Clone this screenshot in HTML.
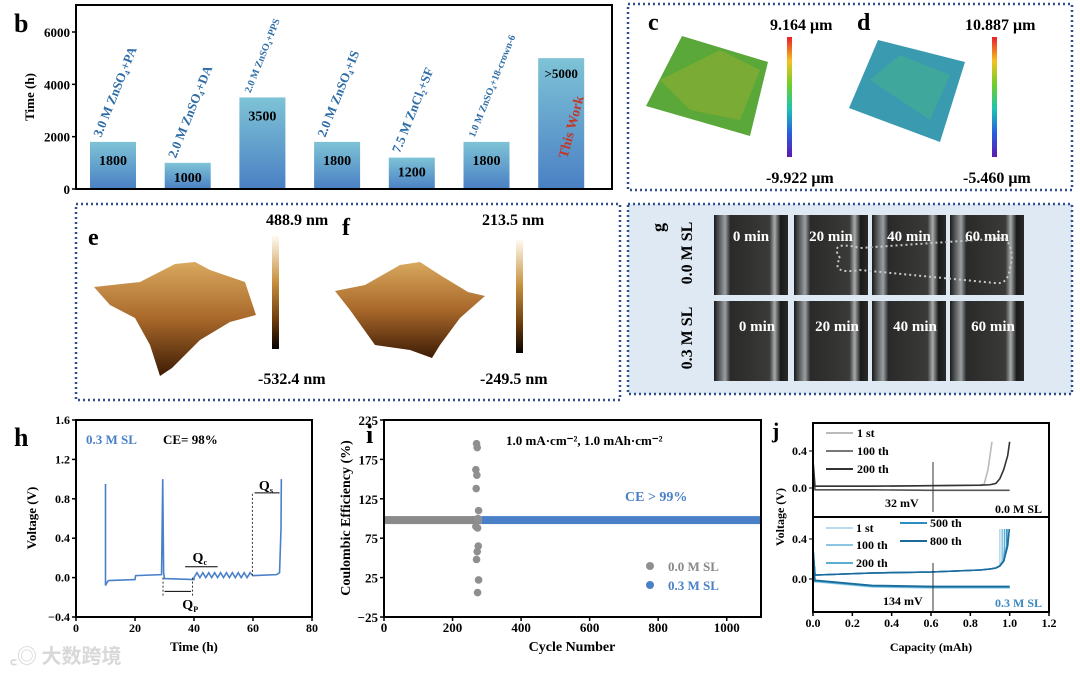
<!DOCTYPE html>
<html><head><meta charset="utf-8"><style>
html,body{margin:0;padding:0;background:#fff;width:1080px;height:673px;overflow:hidden}
svg{display:block;font-family:"Liberation Serif","Noto Serif CJK SC",serif;font-weight:bold}
</style></head><body>
<svg id="fig" width="1080" height="673" viewBox="0 0 1080 673">
<defs>
<linearGradient id="barG" x1="0" y1="0" x2="0" y2="1"><stop offset="0" stop-color="#7ec3d6"/><stop offset="1" stop-color="#4a80c4"/></linearGradient>
<linearGradient id="rainbow" x1="0" y1="0" x2="0" y2="1"><stop offset="0" stop-color="#e8202a"/><stop offset=".2" stop-color="#f5c021"/><stop offset=".4" stop-color="#6ccf2a"/><stop offset=".6" stop-color="#1bc3b0"/><stop offset=".8" stop-color="#2a5ee0"/><stop offset="1" stop-color="#5a1ab0"/></linearGradient>
<linearGradient id="afmBar" x1="0" y1="0" x2="0" y2="1"><stop offset="0" stop-color="#fffaf0"/><stop offset=".4" stop-color="#c8913f"/><stop offset=".75" stop-color="#6b3a0c"/><stop offset="1" stop-color="#050200"/></linearGradient>
<linearGradient id="afmS" x1="0" y1="0" x2="0" y2="1"><stop offset="0" stop-color="#d9a85e"/><stop offset=".5" stop-color="#a8682a"/><stop offset="1" stop-color="#3d1c05"/></linearGradient>
<linearGradient id="micro" x1="0" y1="0" x2="1" y2="0"><stop offset="0" stop-color="#1a1a1a"/><stop offset=".15" stop-color="#9aa0a2"/><stop offset=".22" stop-color="#2a2a2a"/><stop offset=".75" stop-color="#3a3a38"/><stop offset=".82" stop-color="#a8abab"/><stop offset=".9" stop-color="#1a1a1a"/><stop offset="1" stop-color="#2a2a2a"/></linearGradient>
</defs>

<g id="panelB"></g>
<g>
<rect x="628" y="4" width="444" height="186" fill="none" stroke="#2f4f8f" stroke-width="2.5" stroke-dasharray="2 3"/>
<text x="648" y="30" font-size="24">c</text>
<polygon points="646,106 682,36 768,62 750,136" fill="#5aa83a"/>
<polygon points="660,80 720,50 760,70 740,120 690,110" fill="#8fae30" opacity=".6"/>
<rect x="787" y="37" width="5" height="120" fill="url(#rainbow)"/>
<text x="770" y="30" font-size="16">9.164 μm</text>
<text x="766" y="183" font-size="16">-9.922 μm</text>
<text x="857" y="30" font-size="24">d</text>
<polygon points="849,108 878,40 965,62 940,142" fill="#3a9ab0"/>
<polygon points="870,80 900,55 950,75 930,120" fill="#45b090" opacity=".6"/>
<rect x="992" y="37" width="5" height="120" fill="url(#rainbow)"/>
<text x="965" y="30" font-size="16">10.887 μm</text>
<text x="963" y="183" font-size="16">-5.460 μm</text>
</g>
<g>
<rect x="76" y="204" width="544" height="196" fill="none" stroke="#2f4f8f" stroke-width="2.5" stroke-dasharray="2 3"/>
<text x="88" y="245" font-size="24">e</text>
<polygon points="94,287 140,282 175,264 195,262 210,270 245,282 256,315 230,322 200,340 172,368 160,376 150,345 135,318 110,305" fill="url(#afmS)"/>
<rect x="272" y="236" width="7" height="113" fill="url(#afmBar)"/>
<text x="266" y="225" font-size="16">488.9 nm</text>
<text x="258" y="384" font-size="16">-532.4 nm</text>
<text x="342" y="235" font-size="24">f</text>
<polygon points="335,291 365,285 400,265 420,262 440,275 468,292 485,296 460,318 440,345 432,358 410,350 375,345 350,310" fill="url(#afmS)"/>
<rect x="516" y="240" width="7" height="113" fill="url(#afmBar)"/>
<text x="482" y="225" font-size="16">213.5 nm</text>
<text x="480" y="384" font-size="16">-249.5 nm</text>
</g>
<g id="panelG">
<rect x="628" y="204" width="444" height="190" fill="#dee9f3" stroke="#2f4f8f" stroke-width="2.5" stroke-dasharray="2 3"/>
<text x="0" y="0" font-size="18" transform="translate(664,232) rotate(-90)">g</text>
<text x="0" y="0" font-size="16" text-anchor="middle" transform="translate(692,253) rotate(-90)">0.0 M SL</text>
<text x="0" y="0" font-size="16" text-anchor="middle" transform="translate(692,338) rotate(-90)">0.3 M SL</text>
</g>
<g id="panelH"></g>
<g id="panelI"></g>
<g id="panelJ"></g>
<text x="10" y="663" font-size="20" fill="#d8d8d8" font-family="'Noto Sans CJK SC',sans-serif">꜀◎ 大数跨境</text>
</svg>
<script>
const NS='http://www.w3.org/2000/svg';
function mk(p,tag,at,txt){const e=document.createElementNS(NS,tag);for(const k in at)e.setAttribute(k,at[k]);if(txt!==undefined)e.textContent=txt;p.appendChild(e);return e;}

const bCategories=['3.0 M ZnSO₄+PA','2.0 M ZnSO₄+DA','2.0 M ZnSO₄+PPS','2.0 M ZnSO₄+IS','7.5 M ZnCl₂+SF','1.0 M ZnSO₄+18-crown-6','This Work'];
const bValues=[1800,1000,3500,1800,1200,1800,5000];
const bValueLabels=['1800','1000','3500','1800','1200','1800','>5000'];
const bTicks=[0,2000,4000,6000];

const hTime=[10,10,10.5,11,20,20.2,29,29.4,29.7,30,40];
const hVolt=[0.95,-0.08,-0.05,-0.03,-0.02,0.02,0.03,1.0,0.05,-0.01,-0.02];
const hOscTime=[40,41,42,43,44,45,46,47,48,49,50,51,52,53,54,55,56,57,58,59,60];
const hOscVolt=[0.0,0.05,0.0,0.05,0.0,0.05,0.0,0.05,0.0,0.05,0.0,0.05,0.0,0.05,0.0,0.05,0.0,0.05,0.0,0.05,0.02];
const hTailTime=[60,68,69,69.5,69.6];
const hTailVolt=[0.02,0.03,0.05,0.5,1.0];
const hXTicks=[0,20,40,60,80];
const hYTicks=[-0.4,0,0.4,0.8,1.2,1.6];

const iGrayRange=[0,285];
const iBlueRange=[285,1100];
const iBaseline=98;
const iOutlierCycle=[270,272,268,271,269,276,274,268,273,275,272,270,276,273];
const iOutlierCE=[195,190,162,155,138,110,100,90,88,65,58,48,22,6];
const iXTicks=[0,200,400,600,800,1000];
const iYTicks=[-25,25,75,125,175,225];

const jCap=[0,0.01,0.02,0.3,0.6,0.85,0.9,0.93,0.95,0.97,0.99,1.0];
const jTopCharge=[0.3,0.02,0.02,0.02,0.025,0.03,0.035,0.05,0.1,0.2,0.35,0.5];
const jTopDisch=[0.25,-0.02,-0.02,-0.02,-0.025,-0.025,-0.025,-0.025,-0.025,-0.025,-0.025,-0.025];
const jTop1stEnd=[0.87,0.89,0.91];
const jBotCharge=[0.3,0.04,0.04,0.06,0.07,0.09,0.1,0.11,0.13,0.18,0.33,0.5];
const jBotDisch=[0.2,-0.03,-0.03,-0.08,-0.09,-0.09,-0.09,-0.09,-0.09,-0.09,-0.09,-0.09];
const jXTicks=[0,0.2,0.4,0.6,0.8,1.0,1.2];

(function(){
const g=document.getElementById('panelB');
const L=76,R=612,T=5,B=189;
const y=v=>B-(v/6000)*(B-32);
const xc=i=>113+i*74.7;
const bw=46;
mk(g,'text',{x:14,y:32,'font-size':26},'b');
bValues.forEach((v,i)=>{
 const r=mk(g,'rect',{x:xc(i)-bw/2,y:y(v),width:bw,height:B-y(v),fill:'url(#barG)'});
 
 
 if(i<6){
  const t=mk(g,'text',{x:0,y:0,'font-size':i==2||i==5?10:13,fill:'#2e6da6',transform:`translate(${xc(i)-12},${y(v)-4}) rotate(-68)`},bCategories[i]);
  
  
  const lv=mk(g,'text',{x:xc(i),y:y(v)+(i==1||i==4?19:23),'font-size':14,'text-anchor':'middle'},bValueLabels[i]);
  
  
 } else {
  mk(g,'text',{x:xc(i),y:y(v)+20,'font-size':13,'text-anchor':'middle'},bValueLabels[i]);
  const tw=mk(g,'text',{x:0,y:0,'font-size':14,fill:'#c0392b',transform:`translate(${xc(i)+6},${B-30}) rotate(-75)`},bCategories[i]);
  
  
 }
});
mk(g,'rect',{x:L,y:T,width:R-L,height:B-T,fill:'none',stroke:'#000','stroke-width':2});
bTicks.forEach(v=>{mk(g,'line',{x1:L,x2:L-4,y1:y(v),y2:y(v),stroke:'#000','stroke-width':1.5});
 mk(g,'text',{x:L-6,y:y(v)+5,'font-size':13,'text-anchor':'end'},v);});
mk(g,'text',{x:0,y:0,'font-size':13,'text-anchor':'middle',transform:`translate(34,97) rotate(-90)`},'Time (h)');
})();

(function(){
const g=document.getElementById('panelG');
const cols=[714,794,872,950], w=74, rows=[215,301], h=80;
const lbl=['0 min','20 min','40 min','60 min'];
rows.forEach((ry,ri)=>cols.forEach((cx,ci)=>{
 mk(g,'rect',{x:cx,y:ry,width:w,height:h,fill:'url(#micro)'});
 mk(g,'text',{x:cx+w/2+(ri?6:0),y:ry+(ri?30:26),'font-size':15,fill:'#fff','text-anchor':'middle'},lbl[ci]);
}));
mk(g,'path',{d:'M840,258 Q828,240 860,248 L1005,238 Q1015,250 1010,268 Q1008,285 995,283 L860,270 Q830,275 840,258Z',fill:'none',stroke:'#c8c8c8','stroke-width':2,'stroke-dasharray':'2 3'});
})();

(function(){
const g=document.getElementById('panelH');
const L=76,R=312,T=420,B=617;
const x=t=>L+t/80*(R-L), y=v=>B-(v+0.4)/2*(B-T);
mk(g,'text',{x:14,y:446,'font-size':26},'h');
mk(g,'rect',{x:L,y:T,width:R-L,height:B-T,fill:'none',stroke:'#000','stroke-width':2});
hXTicks.forEach(v=>{mk(g,'line',{x1:x(v),x2:x(v),y1:B,y2:B+4,stroke:'#000','stroke-width':1.5});mk(g,'text',{x:x(v),y:B+15,'font-size':12,'text-anchor':'middle'},v);});
hYTicks.forEach(v=>{mk(g,'line',{x1:L,x2:L-4,y1:y(v),y2:y(v),stroke:'#000','stroke-width':1.5});mk(g,'text',{x:L-6,y:y(v)+4,'font-size':12,'text-anchor':'end'},v==0?'0.0':(v<0?'\u2212':'')+Math.abs(v).toFixed(1));});
const T2=hTime.concat(hOscTime,hTailTime), V2=hVolt.concat(hOscVolt,hTailVolt);
const p=mk(g,'polyline',{points:T2.map((t,i)=>x(t)+','+y(V2[i])).join(' '),fill:'none',stroke:'#4a80c8','stroke-width':1.6});


[[29.5,0,-0.2],[39.5,0,-0.2],[59.8,0.85,0.02]].forEach(a=>mk(g,'line',{x1:x(a[0]),x2:x(a[0]),y1:y(a[1]),y2:y(a[2]),stroke:'#333','stroke-dasharray':'2 2'}));
mk(g,'line',{x1:x(30),x2:x(39),y1:y(-0.14),y2:y(-0.14),stroke:'#000'});
mk(g,'line',{x1:x(60.5),x2:x(69),y1:y(0.86),y2:y(0.86),stroke:'#000'});
mk(g,'line',{x1:x(37),x2:x(48),y1:y(0.11),y2:y(0.11),stroke:'#000'});
mk(g,'text',{x:x(36),y:y(-0.24)+8,'font-size':14},'Q');mk(g,'text',{x:x(36)+11,y:y(-0.24)+11,'font-size':8},'P');
mk(g,'text',{x:x(39.5),y:y(0.2)+4,'font-size':14},'Q');mk(g,'text',{x:x(39.5)+11,y:y(0.2)+7,'font-size':8},'c');
mk(g,'text',{x:x(62),y:y(0.93)+4,'font-size':14},'Q');mk(g,'text',{x:x(62)+11,y:y(0.93)+7,'font-size':8},'s');
mk(g,'text',{x:86,y:444,'font-size':13,fill:'#4a80c8'},'0.3 M SL');
mk(g,'text',{x:163,y:444,'font-size':13},'CE= 98%');
mk(g,'text',{x:0,y:0,'font-size':13,'text-anchor':'middle',transform:'translate(36,518) rotate(-90)'},'Voltage (V)');
mk(g,'text',{x:194,y:651,'font-size':13,'text-anchor':'middle'},'Time (h)');
})();

(function(){
const g=document.getElementById('panelI');
const L=384,R=761,T=420,B=617;
const x=c=>L+c/1100*(R-L), y=v=>B-(v+25)/250*(B-T);
mk(g,'text',{x:366,y:443,'font-size':26},'i');
mk(g,'rect',{x:x(iGrayRange[0]),y:y(iBaseline)-4,width:x(iGrayRange[1])-x(iGrayRange[0]),height:8,fill:'#8a8a8a'});
mk(g,'rect',{x:x(iBlueRange[0]),y:y(iBaseline)-4,width:x(iBlueRange[1])-x(iBlueRange[0]),height:8,fill:'#4a80c8'});
iOutlierCycle.forEach((c,i)=>{const d=mk(g,'circle',{cx:x(c),cy:y(iOutlierCE[i]),r:3.8,fill:'#8f8f8f'});
 
 });
mk(g,'rect',{x:L,y:T,width:R-L,height:B-T,fill:'none',stroke:'#000','stroke-width':2});
iXTicks.forEach(v=>{mk(g,'line',{x1:x(v),x2:x(v),y1:B,y2:B+4,stroke:'#000','stroke-width':1.5});mk(g,'text',{x:x(v),y:B+15,'font-size':13,'text-anchor':'middle'},v);});
iYTicks.forEach(v=>{mk(g,'line',{x1:L,x2:L-4,y1:y(v),y2:y(v),stroke:'#000','stroke-width':1.5});mk(g,'text',{x:L-6,y:y(v)+5,'font-size':13,'text-anchor':'end'},v<0?'\u221225':v);});
mk(g,'text',{x:506,y:445,'font-size':13},'1.0 mA·cm⁻², 1.0 mAh·cm⁻²');
mk(g,'text',{x:625,y:501,'font-size':14,fill:'#4a80c8'},'CE > 99%');
mk(g,'circle',{cx:650,cy:566,r:4,fill:'#8f8f8f'});mk(g,'text',{x:668,y:571,'font-size':13,fill:'#888'},'0.0 M SL');
mk(g,'circle',{cx:650,cy:585,r:4,fill:'#4a80c8'});mk(g,'text',{x:668,y:590,'font-size':13,fill:'#4a80c8'},'0.3 M SL');
mk(g,'text',{x:0,y:0,'font-size':14,'text-anchor':'middle',transform:'translate(350,518) rotate(-90)'},'Coulombic Efficiency (%)');
mk(g,'text',{x:572,y:651,'font-size':14,'text-anchor':'middle'},'Cycle Number');
})();

(function(){
const g=document.getElementById('panelJ');
const L=813,R=1049,T1=423,B1=517,B2=612;
const x=c=>L+c/1.2*(R-L);
const y1=v=>488-v/0.4*37, y2=v=>579-v/0.4*40;
mk(g,'text',{x:772,y:438,'font-size':22},'j');
const line=(cap,vals,fy,col,nm)=>{const p=mk(g,'polyline',{points:cap.map((c,i)=>x(c)+','+fy(vals[i])).join(' '),fill:'none',stroke:col,'stroke-width':1.6});
 
 };
line(jCap,jTopDisch,y1,'#555','top-discharge');
line(jCap.slice(0,6).concat(jTop1stEnd),jTopCharge.slice(0,6).concat([0.04,0.2,0.5]),y1,'#bbb','top-1st');
line(jCap,jTopCharge,y1,'#333','top-200th');
['#b8dcee','#8cc6e2','#5aaed4','#2b8cc0','#1b6a9c'].forEach((c,k)=>{
 line(jCap,jBotDisch.map(v=>v+k*0.004),y2,c,'bottom-discharge-'+k);
 line(jCap.map(v=>Math.min(v,0.95+k*0.012)),jBotCharge,y2,c,'bottom-charge-'+k);
});
mk(g,'rect',{x:L,y:T1,width:R-L,height:B1-T1,fill:'none',stroke:'#000','stroke-width':2});
mk(g,'rect',{x:L,y:B1,width:R-L,height:B2-B1,fill:'none',stroke:'#000','stroke-width':2});
jXTicks.forEach(v=>{mk(g,'line',{x1:x(v),x2:x(v),y1:B2,y2:B2+4,stroke:'#000','stroke-width':1.5});mk(g,'text',{x:x(v),y:B2+15,'font-size':12,'text-anchor':'middle'},v.toFixed(1));});
[[0.4,y1],[0,y1],[0.4,y2],[0,y2]].forEach(a=>{mk(g,'line',{x1:L,x2:L-4,y1:a[1](a[0]),y2:a[1](a[0]),stroke:'#000'});mk(g,'text',{x:L-6,y:a[1](a[0])+4,'font-size':12,'text-anchor':'end'},a[0].toFixed(1));});
mk(g,'line',{x1:933,x2:933,y1:462,y2:512,stroke:'#333'});
mk(g,'line',{x1:933,x2:933,y1:563,y2:612,stroke:'#333'});
mk(g,'text',{x:885,y:507,'font-size':12},'32 mV');
mk(g,'text',{x:883,y:605,'font-size':12},'134 mV');
mk(g,'text',{x:995,y:513,'font-size':12},'0.0 M SL');
mk(g,'text',{x:995,y:607,'font-size':12,fill:'#3a88c0'},'0.3 M SL');
[['1 st','#bbb',437],['100 th','#777',455],['200 th','#333',473]].forEach(a=>{mk(g,'line',{x1:826,x2:853,y1:a[2]-4,y2:a[2]-4,stroke:a[1],'stroke-width':2});mk(g,'text',{x:857,y:a[2],'font-size':12},a[0]);});
[['1 st','#b8dcee',831,532],['100 th','#8cc6e2',831,549],['200 th','#5aaed4',831,567],['500 th','#2b8cc0',905,527],['800 th','#1b6a9c',905,545]].forEach(a=>{mk(g,'line',{x1:a[2]-5,x2:a[2]+22,y1:a[3]-4,y2:a[3]-4,stroke:a[1],'stroke-width':2});mk(g,'text',{x:a[2]+25,y:a[3],'font-size':12},a[0]);});
mk(g,'text',{x:0,y:0,'font-size':12,'text-anchor':'middle',transform:'translate(784,517) rotate(-90)'},'Voltage (V)');
mk(g,'text',{x:931,y:651,'font-size':12,'text-anchor':'middle'},'Capacity (mAh)');
})();
</script>
</body></html>
